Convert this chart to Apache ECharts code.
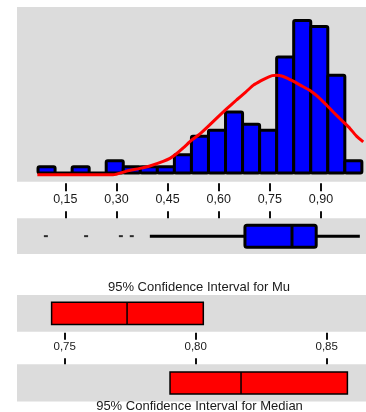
<!DOCTYPE html>
<html><head><meta charset="utf-8">
<script src="https://cdn.jsdelivr.net/npm/echarts@6/dist/echarts.min.js"></script>
<style>html,body{margin:0;padding:0;background:#fff}#c{width:366px;height:412px}</style>
</head><body><div id="c"></div>
<script>
// ---- data ----
const binLower  = [0.07,0.12,0.17,0.22,0.27,0.32,0.37,0.42,0.47,0.52,0.57,0.62,0.67,0.72,0.77,0.82,0.87,0.92,0.97];
const binUpper  = [0.12,0.17,0.22,0.27,0.32,0.37,0.42,0.47,0.52,0.57,0.62,0.67,0.72,0.77,0.82,0.87,0.92,0.97,1.02];
const binCounts = [1,0,1,0,2,1,1,1,3,6,7,10,8,7,19,25,24,16,2];

const curveX = [0.068,0.29,0.33,0.369,0.398,0.437,0.457,0.477,0.496,0.521,0.545,0.572,0.598,0.623,0.653,0.68,0.702,0.723,0.741,0.757,0.770,0.785,0.799,0.82,0.839,0.868,0.897,0.917,0.936,0.965,0.985,1.005,1.024];
const curveY = [-0.3,-0.3,0.3,0.75,1.15,1.9,2.4,3.2,4.1,5.4,6.4,7.8,9.2,10.5,12.0,13.3,14.4,15.1,15.6,15.95,16.0,15.9,15.6,15.0,14.4,13.5,12.2,11.1,10.0,8.4,7.3,6.0,5.1];

const boxStats = [0.398, 0.677, 0.815, 0.886, 1.014]; // whisker low, Q1, median, Q3, whisker high
const outliers = [0.093, 0.211, 0.313, 0.345];

const histTicks = [0.15, 0.30, 0.45, 0.60, 0.75, 0.90];
const ciTicks = [0.75, 0.80, 0.85];

const muCI = [0.745, 0.7738, 0.8029];      // lower, mean, upper
const medianCI = [0.7902, 0.8173, 0.8579]; // lower, median, upper

const titleMu = '95% Confidence Interval for Mu';
const titleMedian = '95% Confidence Interval for Median';

// ---- chart ----
const FONT = 'Liberation Sans, Arial, sans-serif';
const GRAY = '#DCDCDC';
const fmt = v => Number(v).toFixed(2).replace('.', ',');

const histData = binCounts.map((c, i) => [binLower[i], binUpper[i], c]);
const curveData = curveX.map((x, i) => [x, curveY[i]]);

function hiddenY(gi, min, max) {
  return {type: 'value', gridIndex: gi, min: min, max: max, show: false};
}

const chart = echarts.init(document.getElementById('c'), null, {renderer: 'canvas'});
chart.setOption({
  animation: false,
  backgroundColor: '#fff',
  grid: [
    {left: 17, right: 0, top: 7, height: 174.7, show: true, backgroundColor: GRAY, borderWidth: 0},
    {left: 17, right: 0, top: 218.3, height: 35.7, show: true, backgroundColor: GRAY, borderWidth: 0},
    {left: 17, right: 0, top: 295, height: 36.7, show: true, backgroundColor: GRAY, borderWidth: 0},
    {left: 17, right: 0, top: 364.3, height: 37.2, show: true, backgroundColor: GRAY, borderWidth: 0}
  ],
  xAxis: [
    {type: 'value', gridIndex: 0, min: 0.0083, max: 1.0321, position: 'bottom', offset: 1.5,
     axisLine: {show: false, onZero: false}, splitLine: {show: false},
     axisTick: {show: true, customValues: histTicks, length: 8, lineStyle: {color: '#111', width: 2}},
     axisLabel: {show: true, customValues: histTicks, formatter: fmt, margin: 10, color: '#1a1a1a', fontSize: 12.5, fontFamily: FONT}},
    {type: 'value', gridIndex: 1, min: 0.0083, max: 1.0321, position: 'top', offset: 0,
     axisLine: {show: false, onZero: false}, splitLine: {show: false},
     axisTick: {show: true, customValues: histTicks, length: 7, lineStyle: {color: '#111', width: 2}},
     axisLabel: {show: false}},
    {type: 'value', gridIndex: 2, min: 0.73179, max: 0.865, position: 'bottom', offset: 1,
     axisLine: {show: false, onZero: false}, splitLine: {show: false},
     axisTick: {show: true, customValues: ciTicks, length: 7, lineStyle: {color: '#111', width: 2}},
     axisLabel: {show: true, customValues: ciTicks, formatter: fmt, margin: 8, color: '#1a1a1a', fontSize: 11.5, fontFamily: FONT}},
    {type: 'value', gridIndex: 3, min: 0.73179, max: 0.865, position: 'top', offset: 0,
     axisLine: {show: false, onZero: false}, splitLine: {show: false},
     axisTick: {show: true, customValues: ciTicks, length: 6, lineStyle: {color: '#111', width: 2}},
     axisLabel: {show: false}}
  ],
  yAxis: [hiddenY(0, -1.43, 27.2), hiddenY(1, 0, 1), hiddenY(2, 0, 1), hiddenY(3, 0, 1)],
  graphic: [
    {type: 'text', x: 199, y: 287, z: 10,
     style: {text: titleMu, font: '13px ' + FONT, fill: '#1a1a1a', align: 'center', verticalAlign: 'middle', textAlign: 'center', textVerticalAlign: 'middle'}},
    {type: 'text', x: 199.5, y: 406.5, z: 10,
     style: {text: titleMedian, font: '13px ' + FONT, fill: '#1a1a1a', align: 'center', verticalAlign: 'middle', textAlign: 'center', textVerticalAlign: 'middle'}}
  ],
  series: [
    {type: 'custom', xAxisIndex: 0, yAxisIndex: 0, data: histData, z: 2,
     renderItem: function (params, api) {
       const p0 = api.coord([api.value(0), 0]);
       const p1 = api.coord([api.value(1), api.value(2)]);
       return {type: 'rect',
         shape: {x: p0[0], y: p1[1], width: p1[0] - p0[0], height: p0[1] - p1[1], r: 1.5},
         style: {fill: '#0000FF', stroke: '#000', lineWidth: 3}};
     }},
    {type: 'line', xAxisIndex: 0, yAxisIndex: 0, data: curveData, z: 3,
     symbol: 'none', smooth: 0.2, lineStyle: {color: '#FF0000', width: 3}},
    {type: 'custom', xAxisIndex: 1, yAxisIndex: 1, data: [boxStats], z: 2,
     renderItem: function (params, api) {
       const yc = api.coord([api.value(2), 0.5])[1];
       const xs = [0, 1, 2, 3, 4].map(i => api.coord([api.value(i), 0.5])[0]);
       const h = 11;
       const ln = {stroke: '#000', lineWidth: 3};
       return {type: 'group', children: [
         {type: 'line', shape: {x1: xs[0], y1: yc, x2: xs[1], y2: yc}, style: ln},
         {type: 'line', shape: {x1: xs[3], y1: yc, x2: xs[4], y2: yc}, style: ln},
         {type: 'rect', shape: {x: xs[1], y: yc - h, width: xs[3] - xs[1], height: 2 * h, r: 2},
          style: {fill: '#0000FF', stroke: '#000', lineWidth: 3}},
         {type: 'line', shape: {x1: xs[2], y1: yc - h, x2: xs[2], y2: yc + h}, style: ln}
       ]};
     }},
    {type: 'scatter', xAxisIndex: 1, yAxisIndex: 1, z: 3,
     data: outliers.map(v => [v, 0.5]), symbol: 'rect', symbolSize: [4, 2],
     itemStyle: {color: '#000'}},
    {type: 'custom', xAxisIndex: 2, yAxisIndex: 2, data: [muCI], z: 2,
     renderItem: function (params, api) {
       const yc = api.coord([api.value(1), 0.5])[1];
       const lo = api.coord([api.value(0), 0.5])[0];
       const mid = api.coord([api.value(1), 0.5])[0];
       const hi = api.coord([api.value(2), 0.5])[0];
       const h = 11.2;
       return {type: 'group', children: [
         {type: 'rect', shape: {x: lo, y: yc - h, width: hi - lo, height: 2 * h},
          style: {fill: '#FF0000', stroke: '#000', lineWidth: 1.5}},
         {type: 'line', shape: {x1: mid, y1: yc - h, x2: mid, y2: yc + h}, style: {stroke: '#000', lineWidth: 1.5}}
       ]};
     }},
    {type: 'custom', xAxisIndex: 3, yAxisIndex: 3, data: [medianCI], z: 2,
     renderItem: function (params, api) {
       const yc = api.coord([api.value(1), 0.5])[1];
       const lo = api.coord([api.value(0), 0.5])[0];
       const mid = api.coord([api.value(1), 0.5])[0];
       const hi = api.coord([api.value(2), 0.5])[0];
       const h = 11;
       return {type: 'group', children: [
         {type: 'rect', shape: {x: lo, y: yc - h, width: hi - lo, height: 2 * h},
          style: {fill: '#FF0000', stroke: '#000', lineWidth: 1.5}},
         {type: 'line', shape: {x1: mid, y1: yc - h, x2: mid, y2: yc + h}, style: {stroke: '#000', lineWidth: 1.5}}
       ]};
     }}
  ]
});
</script>
</body></html>
